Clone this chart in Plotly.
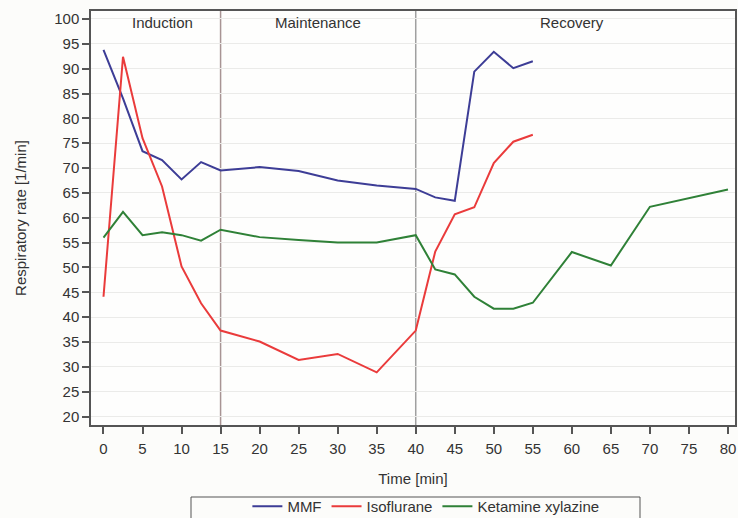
import plotly.graph_objects as go

# Time points (min) for each group
time_mmf = [0, 2.5, 5, 7.5, 10, 12.5, 15, 20, 25, 30, 35, 40, 42.5, 45, 47.5, 50, 52.5, 55]
rate_mmf = [93.8, 84.0, 73.4, 71.6, 67.7, 71.2, 69.5, 70.2, 69.4, 67.5, 66.5, 65.8, 64.1, 63.4, 89.4, 93.4, 90.1, 91.5]

time_iso = [0, 2.5, 5, 7.5, 10, 12.5, 15, 20, 25, 30, 35, 40, 42.5, 45, 47.5, 50, 52.5, 55]
rate_iso = [44.1, 92.4, 76.0, 66.3, 50.2, 42.8, 37.3, 35.1, 31.4, 32.6, 28.9, 37.3, 53.2, 60.7, 62.1, 71.0, 75.3, 76.7]

time_kx = [0, 2.5, 5, 7.5, 10, 12.5, 15, 20, 25, 30, 35, 40, 42.5, 45, 47.5, 50, 52.5, 55, 60, 65, 70, 80]
rate_kx = [56.0, 61.2, 56.5, 57.1, 56.5, 55.4, 57.6, 56.1, 55.5, 55.0, 55.0, 56.5, 49.6, 48.6, 44.1, 41.7, 41.7, 42.9, 53.1, 50.4, 62.2, 65.7]

phase_labels = ["Induction", "Maintenance", "Recovery"]
phase_centers = [7.5, 27.5, 60]
phase_bounds = [15, 40]

x_ticks = list(range(0, 81, 5))
y_ticks = list(range(20, 101, 5))

font_family = "Liberation Sans, Arial, sans-serif"
text_color = "#333333"
axis_color = "#555555"
fs = 15

fig = go.Figure()
fig.add_trace(go.Scatter(x=time_mmf, y=rate_mmf, mode="lines", name="MMF",
                         line=dict(color="#3d3d96", width=2)))
fig.add_trace(go.Scatter(x=time_iso, y=rate_iso, mode="lines", name="Isoflurane",
                         line=dict(color="#ea3b3b", width=2)))
fig.add_trace(go.Scatter(x=time_kx, y=rate_kx, mode="lines", name="Ketamine xylazine",
                         line=dict(color="#2f8137", width=2)))

# Phase boundaries
bound_colors = ["#a89494", "#a0a0a0"]
for b, c in zip(phase_bounds, bound_colors):
    fig.add_shape(type="line", x0=b, x1=b, y0=0, y1=1, xref="x", yref="paper",
                  line=dict(color=c, width=1.5), layer="below")

# Phase names along the top
for lbl, cx in zip(phase_labels, phase_centers):
    fig.add_annotation(x=cx, y=0.973, xref="x", yref="paper", text=lbl,
                       showarrow=False, yanchor="middle",
                       font=dict(size=fs, color=text_color, family=font_family))

# Frame around the legend entries
fig.add_shape(type="rect", xref="paper", yref="paper",
              x0=(191 - 91) / 644, x1=(640 - 91) / 644,
              y0=(425 - 519) / 414, y1=(425 - 497) / 414,
              line=dict(color=axis_color, width=1), fillcolor="rgba(0,0,0,0)")

fig.update_layout(
    width=738, height=518,
    margin=dict(l=91, r=3, t=11, b=93, autoexpand=False),
    paper_bgcolor="#fcfcfa",
    plot_bgcolor="#fefefd",
    font=dict(family=font_family, size=fs, color=text_color),
    showlegend=True,
    legend=dict(orientation="h", x=0.52, xanchor="center", y=-0.157, yanchor="top",
                borderwidth=0, bgcolor="rgba(0,0,0,0)",
                font=dict(size=fs, color=text_color)),
    xaxis=dict(
        range=[-1.6, 80.9], tickvals=x_ticks, ticks="outside", ticklen=7,
        tickcolor=axis_color, tickwidth=1.5, ticklabelstandoff=2,
        showline=True, linecolor=axis_color, linewidth=1.5, mirror=True,
        showgrid=False, zeroline=False,
        title=dict(text="Time [min]", font=dict(size=fs, color=text_color), standoff=18),
        tickfont=dict(size=fs, color=text_color),
    ),
    yaxis=dict(
        range=[18.3, 101.6], tickvals=y_ticks, ticks="outside", ticklen=7,
        tickcolor=axis_color, tickwidth=1.5,
        showline=True, linecolor=axis_color, linewidth=1.5, mirror=True,
        showgrid=True, gridcolor="#ebebe9", gridwidth=1, zeroline=False,
        title=dict(text="Respiratory rate [1/min]", font=dict(size=fs, color=text_color), standoff=24),
        tickfont=dict(size=fs, color=text_color),
    ),
)

fig.write_html("out.html")
